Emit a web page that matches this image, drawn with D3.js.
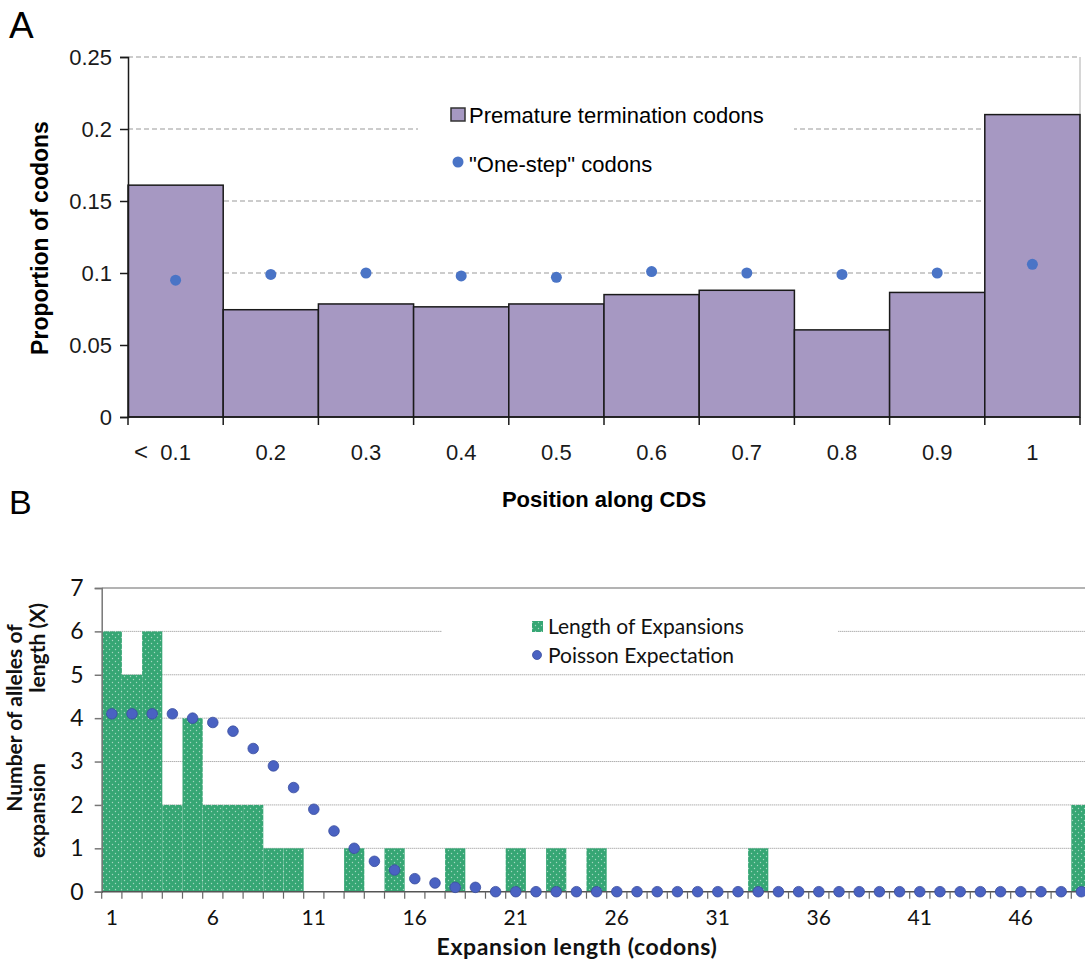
<!DOCTYPE html>
<html>
<head>
<meta charset="utf-8">
<script src="https://cdn.jsdelivr.net/npm/d3@7"></script>
<style>
  body { margin: 0; background: #fff; }
  svg { display: block; }
</style>
</head>
<body>
<div id="chart"></div>
<script>
// panel A data
var posLabels = ['0.1', '0.2', '0.3', '0.4', '0.5', '0.6', '0.7', '0.8', '0.9', '1'];
var ptcProp = [0.161, 0.0745, 0.0785, 0.0765, 0.0785, 0.085, 0.088, 0.0605, 0.0865, 0.21];
var oneStepProp = [0.095, 0.099, 0.1, 0.098, 0.097, 0.101, 0.1, 0.099, 0.1, 0.106];
var ticksA = [0, 0.05, 0.1, 0.15, 0.2, 0.25];

// panel B data
var expLength = [1, 2, 3, 4, 5, 6, 7, 8, 9, 10, 11, 12, 13, 14, 15, 16, 17, 18, 19, 20,
    21, 22, 23, 24, 25, 26, 27, 28, 29, 30, 31, 32, 33, 34, 35, 36, 37, 38, 39, 40,
    41, 42, 43, 44, 45, 46, 47, 48, 49];
var expCount = [6, 5, 6, 2, 4, 2, 2, 2, 1, 1, 0, 0, 1, 0, 1, 0, 0, 1, 0, 0,
    1, 0, 1, 0, 1, 0, 0, 0, 0, 0, 0, 0, 1, 0, 0, 0, 0, 0, 0, 0,
    0, 0, 0, 0, 0, 0, 0, 0, 2];
var poissonExp = [4.1, 4.1, 4.1, 4.1, 4.0, 3.9, 3.7, 3.3, 2.9, 2.4, 1.9, 1.4, 1.0, 0.7, 0.5, 0.3, 0.2, 0.1, 0.1, 0,
    0, 0, 0, 0, 0, 0, 0, 0, 0, 0, 0, 0, 0, 0, 0, 0, 0, 0, 0, 0,
    0, 0, 0, 0, 0, 0, 0, 0, 0];
var ticksB = [0, 1, 2, 3, 4, 5, 6, 7];
var xLabelsB = [1, 6, 11, 16, 21, 26, 31, 36, 41, 46];

var W = 1085, H = 970;
var fontA = '"Liberation Sans", Arial, sans-serif';
var fontB = 'Lato, "Open Sans", sans-serif';

var svg = d3.select('#chart').append('svg')
    .attr('width', W)
    .attr('height', H);

var defs = svg.append('defs');
var pat = defs.append('pattern')
    .attr('id', 'dots')
    .attr('width', 6)
    .attr('height', 6)
    .attr('patternUnits', 'userSpaceOnUse');
pat.append('rect').attr('width', 6).attr('height', 6).attr('fill', '#36a674');
pat.append('circle').attr('cx', 1.5).attr('cy', 1.5).attr('r', 0.7).attr('fill', '#ffffff').attr('opacity', 0.55);
pat.append('circle').attr('cx', 4.5).attr('cy', 4.5).attr('r', 0.7).attr('fill', '#ffffff').attr('opacity', 0.55);

// ---------- panel A ----------
var xA = d3.scaleBand().domain(posLabels).range([128, 1080]).padding(0);
var yA = d3.scaleLinear().domain([0, 0.25]).range([417, 57]);
var gA = svg.append('g');

gA.append('text')
    .attr('x', 9).attr('y', 38)
    .attr('font-family', fontA).attr('font-size', 37)
    .text('A');

// grid
gA.selectAll('.gridA').data(ticksA.slice(1)).enter().append('line')
    .attr('x1', 128).attr('x2', 1080)
    .attr('y1', function (d) { return yA(d); })
    .attr('y2', function (d) { return yA(d); })
    .attr('stroke', '#9a9a9a')
    .attr('stroke-width', 1.2)
    .attr('stroke-dasharray', '5,3');

// right border
gA.append('line')
    .attr('x1', 1080).attr('x2', 1080)
    .attr('y1', yA(0.25)).attr('y2', yA(0))
    .attr('stroke', '#c8c8c8').attr('stroke-width', 1.5);

// legend box (covers grid)
gA.append('rect')
    .attr('x', 418).attr('y', 95).attr('width', 376).attr('height', 90)
    .attr('fill', '#fff');

// bars
gA.selectAll('.barA').data(ptcProp).enter().append('rect')
    .attr('x', function (d, i) { return xA(posLabels[i]); })
    .attr('y', function (d) { return yA(d); })
    .attr('width', xA.bandwidth())
    .attr('height', function (d) { return yA(0) - yA(d); })
    .attr('fill', '#a698c2')
    .attr('stroke', '#1a1a1a')
    .attr('stroke-width', 1.5);

// dots
gA.selectAll('.dotA').data(oneStepProp).enter().append('circle')
    .attr('cx', function (d, i) { return xA(posLabels[i]) + xA.bandwidth() / 2; })
    .attr('cy', function (d) { return yA(d); })
    .attr('r', 5.5)
    .attr('fill', '#4a74c6');

// axes
var yAxisA = d3.axisLeft(yA).tickValues(ticksA).tickSize(8)
    .tickFormat(function (d) { return d === 0 ? '0' : d3.format('')(d); });
var yAx = gA.append('g').attr('transform', 'translate(128,0)').call(yAxisA);
yAx.select('.domain').attr('stroke', '#1a1a1a').attr('stroke-width', 1.5);
yAx.selectAll('.tick line').attr('stroke', '#1a1a1a').attr('stroke-width', 1.5);
yAx.selectAll('.tick text')
    .attr('x', -16)
    .attr('font-family', fontA).attr('font-size', 22).attr('fill', '#1a1a1a');

gA.append('line')
    .attr('x1', 128).attr('x2', 1080)
    .attr('y1', yA(0)).attr('y2', yA(0))
    .attr('stroke', '#1a1a1a').attr('stroke-width', 1.5);
var edgesA = posLabels.map(function (d) { return xA(d); }).concat([1080]);
gA.selectAll('.tickA').data(edgesA).enter().append('line')
    .attr('x1', function (d) { return d; }).attr('x2', function (d) { return d; })
    .attr('y1', yA(0)).attr('y2', yA(0) + 8)
    .attr('stroke', '#1a1a1a').attr('stroke-width', 1.5);
gA.selectAll('.labA').data(posLabels).enter().append('text')
    .attr('x', function (d) { return xA(d) + xA.bandwidth() / 2; })
    .attr('y', 460)
    .attr('text-anchor', 'middle')
    .attr('font-family', fontA).attr('font-size', 22).attr('fill', '#1a1a1a')
    .text(function (d) { return d; });
gA.append('text')
    .attr('x', 141).attr('y', 460)
    .attr('text-anchor', 'middle')
    .attr('font-family', fontA).attr('font-size', 24).attr('fill', '#1a1a1a')
    .text('<');

gA.append('text')
    .attr('x', 604).attr('y', 507)
    .attr('text-anchor', 'middle')
    .attr('font-family', fontA).attr('font-size', 22).attr('font-weight', 'bold')
    .text('Position along CDS');
gA.append('text')
    .attr('transform', 'translate(48,238)rotate(-90)')
    .attr('text-anchor', 'middle')
    .attr('font-family', fontA).attr('font-size', 23).attr('font-weight', 'bold')
    .text('Proportion of codons');

// legend A
gA.append('rect')
    .attr('x', 451).attr('y', 108).attr('width', 14).attr('height', 13)
    .attr('fill', '#a698c2').attr('stroke', '#333').attr('stroke-width', 1.5);
gA.append('text')
    .attr('x', 469).attr('y', 123)
    .attr('font-family', fontA).attr('font-size', 22)
    .text('Premature termination codons');
gA.append('circle')
    .attr('cx', 458).attr('cy', 162).attr('r', 5.5).attr('fill', '#4a74c6');
gA.append('text')
    .attr('x', 469).attr('y', 172)
    .attr('font-family', fontA).attr('font-size', 22)
    .text('"One-step" codons');

// ---------- panel B ----------
var xB = d3.scaleBand().domain(expLength).range([101.7, 101.7 + 49 * 20.2]).padding(0);
var yB = d3.scaleLinear().domain([0, 7]).range([891.7, 588]);
var gB = svg.append('g');

gB.append('text')
    .attr('x', 9).attr('y', 514)
    .attr('font-family', fontA).attr('font-size', 34)
    .text('B');

gB.selectAll('.gridB').data(ticksB.slice(1, 7)).enter().append('line')
    .attr('x1', 101.7).attr('x2', W)
    .attr('y1', function (d) { return yB(d); })
    .attr('y2', function (d) { return yB(d); })
    .attr('stroke', '#8c8c8c')
    .attr('stroke-width', 1)
    .attr('stroke-dasharray', '1,1');
gB.append('line')
    .attr('x1', 101.7).attr('x2', W)
    .attr('y1', yB(7)).attr('y2', yB(7))
    .attr('stroke', '#9a9a9a').attr('stroke-width', 1.5);

gB.append('rect')
    .attr('x', 442).attr('y', 608).attr('width', 396).attr('height', 62)
    .attr('fill', '#fff');

gB.selectAll('.barB').data(expCount).enter().append('rect')
    .attr('x', function (d, i) { return xB(expLength[i]); })
    .attr('y', function (d) { return yB(d); })
    .attr('width', xB.bandwidth())
    .attr('height', function (d) { return yB(0) - yB(d); })
    .attr('fill', 'url(#dots)');

// axes B
var yAxisB = d3.axisLeft(yB).tickValues(ticksB).tickSize(7).tickFormat(d3.format('d'));
var yBx = gB.append('g').attr('transform', 'translate(101.7,0)').call(yAxisB);
yBx.select('.domain').attr('stroke', '#777').attr('stroke-width', 1.5);
yBx.selectAll('.tick line').attr('stroke', '#777').attr('stroke-width', 1.5);
yBx.selectAll('.tick text')
    .attr('x', -18)
    .attr('font-family', fontB).attr('font-size', 23).attr('fill', '#111');

gB.append('line')
    .attr('x1', 101.7).attr('x2', W)
    .attr('y1', yB(0)).attr('y2', yB(0))
    .attr('stroke', '#555').attr('stroke-width', 1.5);
var edgesB = expLength.map(function (d) { return xB(d); });
gB.selectAll('.tickB').data(edgesB).enter().append('line')
    .attr('x1', function (d) { return d; }).attr('x2', function (d) { return d; })
    .attr('y1', yB(0)).attr('y2', yB(0) + 7)
    .attr('stroke', '#666').attr('stroke-width', 1.2);

gB.selectAll('.dotB').data(poissonExp).enter().append('circle')
    .attr('cx', function (d, i) { return xB(expLength[i]) + xB.bandwidth() / 2; })
    .attr('cy', function (d) { return yB(d); })
    .attr('r', 5.3)
    .attr('fill', '#4a62c2')
    .attr('stroke', '#3a4e9e')
    .attr('stroke-width', 0.8);

gB.selectAll('.labB').data(xLabelsB).enter().append('text')
    .attr('x', function (d) { return xB(d) + xB.bandwidth() / 2; })
    .attr('y', 925)
    .attr('text-anchor', 'middle')
    .attr('font-family', fontB).attr('font-size', 21).attr('fill', '#111')
    .text(function (d) { return d; });

gB.append('text')
    .attr('x', 577).attr('y', 955)
    .attr('text-anchor', 'middle')
    .attr('font-family', fontB).attr('font-size', 23).attr('font-weight', 'bold')
    .attr('letter-spacing', 0.6)
    .attr('fill', '#111')
    .text('Expansion length (codons)');

// y title B, two lines ("expansion" / "length (X)" spread apart as in the source)
gB.append('text')
    .attr('transform', 'translate(22,718)rotate(-90)')
    .attr('text-anchor', 'middle')
    .attr('font-family', fontB).attr('font-size', 21).attr('font-weight', 'bold')
    .attr('fill', '#111')
    .text('Number of alleles of');
gB.append('text')
    .attr('transform', 'translate(45,858)rotate(-90)')
    .attr('text-anchor', 'start')
    .attr('font-family', fontB).attr('font-size', 21).attr('font-weight', 'bold')
    .attr('fill', '#111')
    .text('expansion');
gB.append('text')
    .attr('transform', 'translate(45,603)rotate(-90)')
    .attr('text-anchor', 'end')
    .attr('font-family', fontB).attr('font-size', 21).attr('font-weight', 'bold')
    .attr('fill', '#111')
    .text('length (X)');

// legend B
gB.append('rect')
    .attr('x', 532).attr('y', 621).attr('width', 11).attr('height', 11)
    .attr('fill', 'url(#dots)');
gB.append('text')
    .attr('x', 548).attr('y', 634)
    .attr('font-family', fontB).attr('font-size', 21).attr('fill', '#111')
    .text('Length of Expansions');
gB.append('circle')
    .attr('cx', 537).attr('cy', 655).attr('r', 4.5)
    .attr('fill', '#4a62c2').attr('stroke', '#3a4e9e').attr('stroke-width', 0.8);
gB.append('text')
    .attr('x', 548).attr('y', 663)
    .attr('font-family', fontB).attr('font-size', 21).attr('fill', '#111')
    .text('Poisson Expectation');
</script>
</body>
</html>
